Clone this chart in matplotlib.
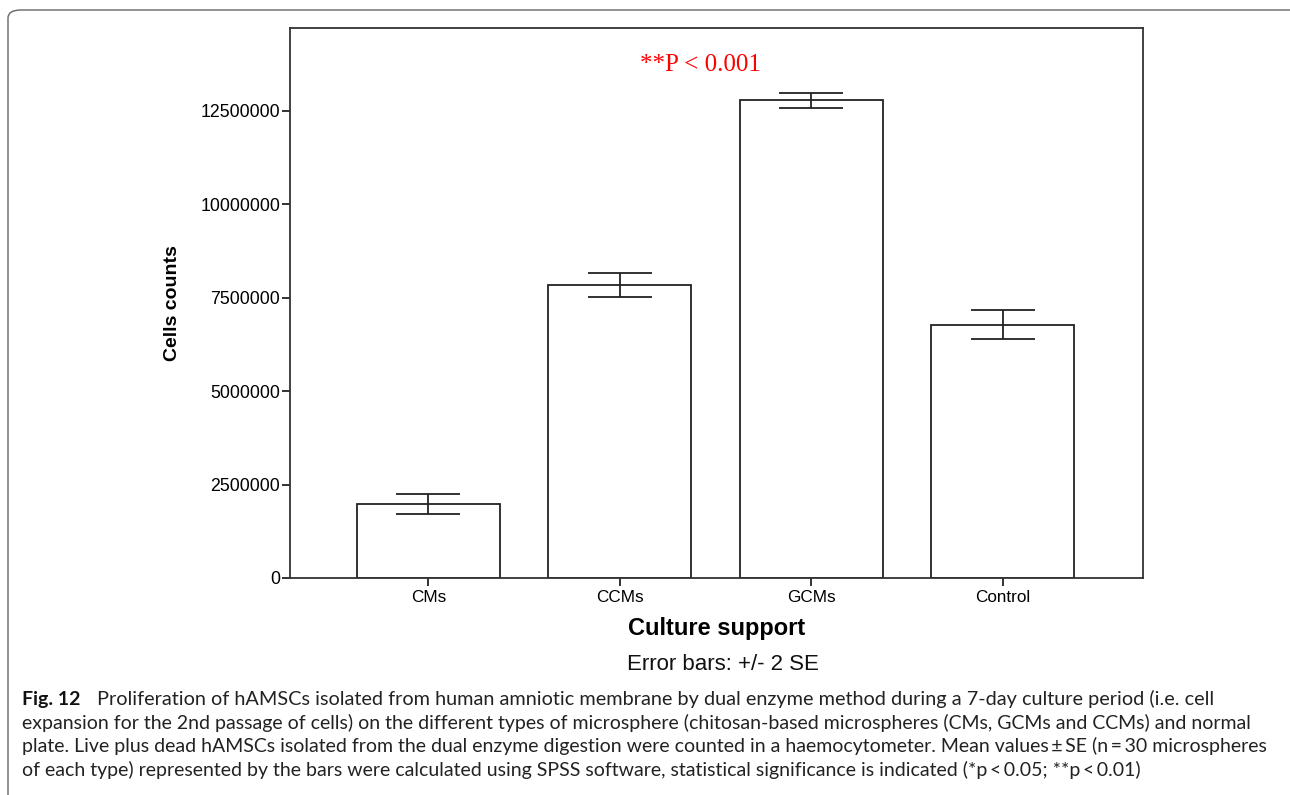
import matplotlib.pyplot as plt
from matplotlib.patches import FancyBboxPatch
import numpy as np

# dados
grupos = ["CMs", "CCMs", "GCMs", "Control"]
contagens = [1980000, 7850000, 12790000, 6780000]
erro_2se = [270000, 320000, 200000, 390000]
ticks_y = [0, 2500000, 5000000, 7500000, 10000000, 12500000]

legenda = [
    "Proliferation of hAMSCs isolated from human amniotic membrane by dual enzyme method during a 7-day culture period (i.e. cell",
    "expansion for the 2nd passage of cells) on the different types of microsphere (chitosan-based microspheres (CMs, GCMs and CCMs) and normal",
    "plate. Live plus dead hAMSCs isolated from the dual enzyme digestion were counted in a haemocytometer. Mean values\u2009\u00b1\u2009SE (n\u2009=\u200930 microspheres",
    "of each type) represented by the bars were calculated using SPSS software, statistical significance is indicated (*p\u2009<\u20090.05; **p\u2009<\u20090.01)",
]

plt.rcParams["font.family"] = ["Liberation Sans", "DejaVu Sans"]

fig = plt.figure(figsize=(12.9, 7.95), dpi=100)
ax = fig.add_axes([290 / 1290, 1 - 578 / 795, 853 / 1290, 550 / 795])

x = np.arange(len(grupos))
ax.bar(x, contagens, width=0.747, color="white", edgecolor="#222222", linewidth=1.3)
ax.errorbar(x, contagens, yerr=erro_2se, fmt="none", ecolor="#222222",
            elinewidth=1.3, capsize=23, capthick=1.3)

ax.set_xlim(-0.723, 3.734)
ax.set_ylim(0, 14720000)
ax.set_xticks(x)
ax.set_xticklabels(grupos, fontsize=12.3)
ax.set_yticks(ticks_y)
ax.set_yticklabels([str(t) for t in ticks_y], fontsize=12.8)
ax.tick_params(axis="y", length=6, width=1.3, color="#222222", pad=1)
ax.tick_params(axis="x", length=6, width=1.3, color="#222222", pad=3)
for s in ax.spines.values():
    s.set_linewidth(1.3)
    s.set_color("#333333")

ax.set_ylabel("Cells counts", fontsize=14, fontweight="bold", labelpad=14)
ax.set_xlabel("Culture support", fontsize=17, fontweight="bold", labelpad=8)

ax.text((700 - 290) / 853, 1 - (65 - 28) / 550, "**P < 0.001", transform=ax.transAxes,
        color="#ff0000", fontsize=18, family="Liberation Serif", ha="center", va="center")

fig.text(723 / 1290, 1 - 665 / 795, "Error bars: +/- 2 SE", fontsize=16,
         ha="center", va="center", color="#111111")

# legenda da figura
y0 = 699
for i, linha in enumerate(legenda):
    yy = 1 - (y0 + i * 23.5) / 795
    if i == 0:
        fig.text(22 / 1290, yy, "Fig. 12", fontsize=14, fontweight="bold",
                 family="Lato", ha="left", va="center", color="#111111")
        fig.text(97 / 1290, yy, linha, fontsize=14.3, family="Lato",
                 ha="left", va="center", color="#222222")
    else:
        fig.text(22 / 1290, yy, linha, fontsize=14, family="Lato",
                 ha="left", va="center", color="#222222")

moldura = FancyBboxPatch((8 / 1290, -0.05), 1.2, 1 - 10 / 795 + 0.05,
                         boxstyle="round,pad=0,rounding_size=0.01",
                         transform=fig.transFigure, fill=False,
                         edgecolor="#666666", linewidth=1.0)
fig.patches.append(moldura)

fig.savefig("out.png", dpi=100)
